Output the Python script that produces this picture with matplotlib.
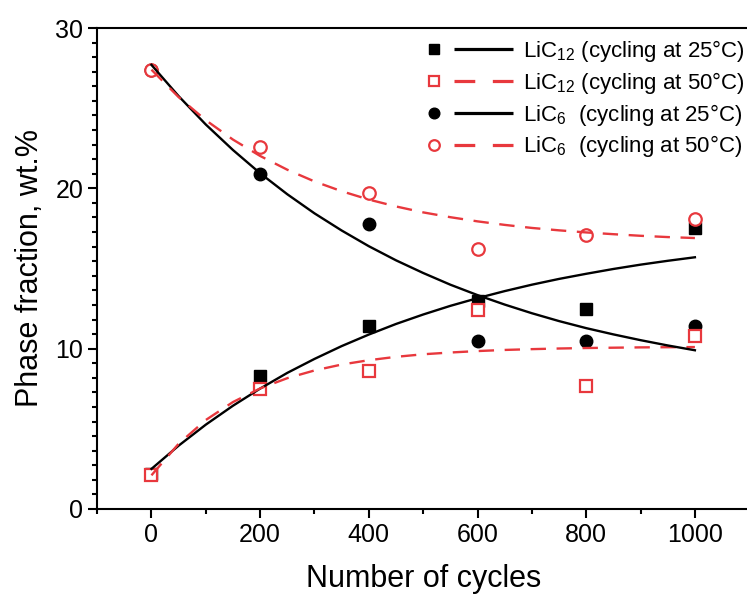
import matplotlib
matplotlib.use("Agg")
import matplotlib.pyplot as plt
from matplotlib.lines import Line2D
from matplotlib.legend_handler import HandlerBase
from matplotlib.ticker import MultipleLocator

plt.rcParams['font.family'] = ['Liberation Sans', 'DejaVu Sans']
plt.rcParams['mathtext.fontset'] = 'custom'
plt.rcParams['mathtext.rm'] = 'Liberation Sans'
plt.rcParams['mathtext.it'] = 'Liberation Sans:italic'

RED = '#e8383d'

# Measured phase fractions (wt.%) vs. number of cycles
cycles = [0, 200, 400, 600, 800, 1000]
lic12_25 = [2.2, 8.3, 11.4, 13.0, 12.5, 17.5]
lic12_50 = [2.1, 7.5, 8.6, 12.4, 7.7, 10.8]
lic6_25 = [27.4, 20.9, 17.8, 10.5, 10.5, 11.4]
lic6_50 = [27.4, 22.6, 19.7, 16.2, 17.1, 18.1]

# Fitted trend curves, sampled every 50 cycles
fit_cycles = [0, 50, 100, 150, 200, 250, 300, 350, 400, 450, 500,
              550, 600, 650, 700, 750, 800, 850, 900, 950, 1000]
fit_lic12_25 = [2.50, 3.95, 5.26, 6.44, 7.51, 8.49, 9.36, 10.16, 10.88, 11.54, 12.13,
                12.67, 13.15, 13.59, 13.99, 14.35, 14.67, 14.97, 15.24, 15.48, 15.70]
fit_lic12_50 = [2.10, 4.07, 5.55, 6.67, 7.52, 8.16, 8.64, 9.01, 9.28, 9.49, 9.65,
                9.76, 9.85, 9.92, 9.97, 10.01, 10.04, 10.06, 10.08, 10.09, 10.10]
fit_lic6_25 = [27.70, 25.75, 23.98, 22.39, 20.94, 19.63, 18.44, 17.37, 16.39, 15.51, 14.72,
               13.99, 13.34, 12.75, 12.21, 11.72, 11.28, 10.89, 10.53, 10.20, 9.90]
fit_lic6_50 = [27.40, 25.69, 24.25, 23.04, 22.02, 21.16, 20.43, 19.82, 19.30, 18.87, 18.50,
               18.20, 17.94, 17.72, 17.53, 17.38, 17.25, 17.14, 17.04, 16.96, 16.90]

labels = [r'LiC$_\mathregular{12}$ (cycling at 25°C)',
          r'LiC$_\mathregular{12}$ (cycling at 50°C)',
          r'LiC$_\mathregular{6}$  (cycling at 25°C)',
          r'LiC$_\mathregular{6}$  (cycling at 50°C)']


class MarkerLineHandler(HandlerBase):
    """Legend entry: symbol on the left, line segment on the right."""

    def create_artists(self, legend, orig_handle, xdescent, ydescent,
                       width, height, fontsize, trans):
        mk, ln = orig_handle
        y = 0.5 * height - ydescent
        x0 = -xdescent
        m = Line2D([x0 + 0.11 * width], [y], linestyle='none',
                   marker=mk.get_marker(), markersize=mk.get_markersize() * 0.85,
                   markerfacecolor=mk.get_markerfacecolor(),
                   markeredgecolor=mk.get_markeredgecolor(),
                   markeredgewidth=mk.get_markeredgewidth())
        seg = Line2D([x0 + 0.33 * width, x0 + width], [y, y],
                     color=ln.get_color(), linewidth=2.3,
                     solid_capstyle='butt', dash_capstyle='butt')
        if ln.get_linestyle() not in ('-', 'solid'):
            seg.set_dashes((6.5, 5.5))
        for a in (m, seg):
            a.set_transform(trans)
        return [m, seg]


fig = plt.figure(figsize=(7.47, 5.96), dpi=100)
ax = fig.add_axes([0.130, 0.146, 1.003 - 0.130, 0.953 - 0.146])

line_kw = dict(linewidth=1.7, zorder=4)
l12_25, = ax.plot(fit_cycles, fit_lic12_25, color='black', **line_kw)
l12_50, = ax.plot(fit_cycles, fit_lic12_50, color=RED, dashes=(6.5, 4.5),
                  dash_capstyle='butt', **line_kw)
l6_25, = ax.plot(fit_cycles, fit_lic6_25, color='black', **line_kw)
l6_50, = ax.plot(fit_cycles, fit_lic6_50, color=RED, dashes=(6.5, 4.5),
                 dash_capstyle='butt', **line_kw)

m12_25, = ax.plot(cycles, lic12_25, linestyle='none', marker='s', markersize=8,
                  markerfacecolor='black', markeredgecolor='black',
                  markeredgewidth=1.0, zorder=2)
m6_25, = ax.plot(cycles, lic6_25, linestyle='none', marker='o', markersize=9,
                 markerfacecolor='black', markeredgecolor='black',
                 markeredgewidth=1.0, zorder=2)
m12_50, = ax.plot(cycles, lic12_50, linestyle='none', marker='s', markersize=8,
                  markerfacecolor='white', markeredgecolor=RED,
                  markeredgewidth=1.6, zorder=3)
m6_50, = ax.plot(cycles, lic6_50, linestyle='none', marker='o', markersize=9,
                 markerfacecolor='white', markeredgecolor=RED,
                 markeredgewidth=1.6, zorder=3)

ax.set_xlim(-100, 1100)
ax.set_ylim(0, 30)
ax.xaxis.set_major_locator(MultipleLocator(200))
ax.xaxis.set_minor_locator(MultipleLocator(100))
ax.yaxis.set_major_locator(MultipleLocator(10))
ax.yaxis.set_minor_locator(MultipleLocator(10 / 11))

for side in ('left', 'bottom', 'top', 'right'):
    ax.spines[side].set_linewidth(1.5)
ax.tick_params(which='both', direction='out', top=False, right=False, width=1.5)
ax.tick_params(which='major', length=6.5, labelsize=18, pad=3.5)
ax.tick_params(which='minor', length=3.6)

ax.set_xlabel('Number of cycles', fontsize=22, labelpad=12)
ax.set_ylabel('Phase fraction, wt.%', fontsize=22, labelpad=7)

handles = [(m12_25, l12_25), (m12_50, l12_50), (m6_25, l6_25), (m6_50, l6_50)]
ax.legend(handles, labels, handler_map={tuple: MarkerLineHandler()},
          loc='upper right', bbox_to_anchor=(745 / 747, 1 - 38 / 596),
          bbox_transform=fig.transFigure, frameon=False, fontsize=16,
          handlelength=4.0, handletextpad=0.45, labelspacing=0.26,
          borderpad=0, borderaxespad=0)

fig.savefig('out.png', dpi=100)
